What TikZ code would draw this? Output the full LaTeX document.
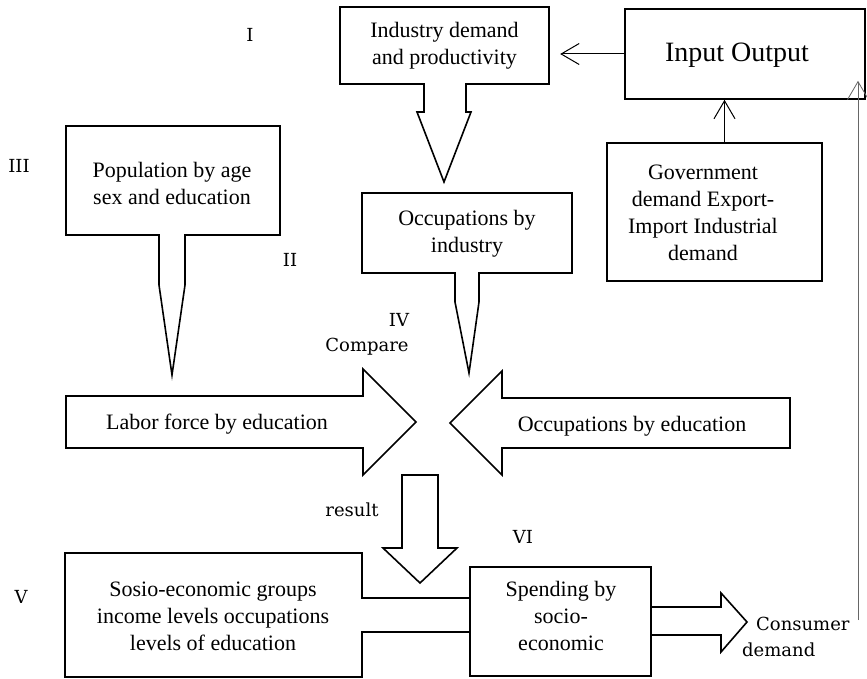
\documentclass[tikz,border=0pt]{standalone}
\usepackage{fontspec}
\setmainfont{Liberation Serif}
\newfontfamily\etiqfont{DejaVu Serif}
\usetikzlibrary{arrows.meta}
\tikzset{
  contour/.style={line width=1.6pt},
  boite/.style={draw, line width=1.6pt},
  txt/.style={align=center, inner sep=0pt, font=\fontsize{22}{27}\selectfont},
  etiq/.style={inner sep=0pt, font=\etiqfont\fontsize{18}{26}\selectfont},
  fleche/.style={line width=1pt, -{Straight Barb[length=18pt,width=21pt]}}}

\begin{document}
\begin{tikzpicture}[x=1pt,y=-1pt]
\useasboundingbox (0,0) rectangle (867,679);

  % bulles du haut
\draw[contour] (340,7) -- (549,7) -- (549,84) -- (466,84) -- (466,112) -- (471,112)
  -- (444,182) -- (417,112) -- (424,112) -- (424,84) -- (340,84) -- cycle;
\node[txt, minimum width=209pt, minimum height=77pt] (industrie) at (444.5,45.5)
  {Industry demand\\and productivity};

\draw[contour] (66,126) -- (280,126) -- (280,235) -- (185,235) -- (185,285)
  -- (172,375) -- (159,285) -- (159,235) -- (66,235) -- cycle;
\node[txt] (population) at (172,183) {Population by age\\sex and education};

\draw[contour] (362,193) -- (572,193) -- (572,273) -- (479,273) -- (479,302)
  -- (469,373) -- (455,302) -- (455,273) -- (362,273) -- cycle;
\node[txt] (occind) at (467,234) {Occupations by\\industry};

  % input output
\node[boite, minimum width=240pt, minimum height=90pt] (io) at (745,54) {};
\node[txt, font=\fontsize{28}{34}\selectfont] (iotxt) at (737,55) {Input Output};
\node[boite, minimum width=215pt, minimum height=138pt] (gouv) at (714.5,212) {};
\node[txt] (gouvtxt) at (703,213) {Government\\demand Export-\\Import Industrial\\demand};

\draw[fleche, shorten >=11pt] (io.west) -- (io.west -| industrie.east);
\draw[fleche] ([xshift=10pt]gouv.north) -- ([xshift=10pt]gouv.north |- io.south);

  % comparaison
\draw[contour] (66,396) -- (363,396) -- (363,369) -- (416,422) -- (363,475)
  -- (363,448) -- (66,448) -- cycle;
\node[txt] (labor) at (217,424) {Labor force by education};

\draw[contour] (790,398) -- (502,398) -- (502,371) -- (450,423) -- (502,475)
  -- (502,448) -- (790,448) -- cycle;
\node[txt] (occedu) at (632,426) {Occupations by education};

\draw[contour] (402,475) -- (438,475) -- (438,548) -- (457,548) -- (420,583)
  -- (383,548) -- (402,548) -- cycle;

  % bas
\draw[contour] (470,598) -- (362,598) -- (362,553) -- (65,553) -- (65,677)
  -- (362,677) -- (362,632) -- (470,632);
\node[txt] (sosio) at (213,616) {Sosio-economic groups\\income levels occupations\\levels of education};

\node[boite, minimum width=181pt, minimum height=109pt] (spend) at (560.5,621.5) {};
\node[txt] (spendtxt) at (561,616) {Spending by\\socio-\\economic};

\draw[contour] (651,607) -- (721,607) -- (721,593) -- (747,622) -- (721,652)
  -- (721,635) -- (651,635);

\node[etiq, align=left, anchor=west] (consumer) at (742,637) {\hspace*{14pt}Consumer\\demand};
\coordinate (cons) at (858,620);
\coordinate (ioS) at ([yshift=19pt]io.south);
\draw[fleche, draw=black!60, line width=0.8pt] (cons) -- (cons |- ioS);

  % numeros
\node[etiq] (n1) at (250,35) {I};
\node[etiq] (n3) at (19,166) {III};
\node[etiq] (n2) at (290,260) {II};
\node[etiq] (n4) at (399,320) {IV};
\node[etiq] (compare) at (367,347) {Compare};
\node[etiq] (result) at (352,510) {result};
\node[etiq] (n6) at (523,537) {VI};
\node[etiq] (n5) at (21,597) {V};
\end{tikzpicture}
\end{document}
